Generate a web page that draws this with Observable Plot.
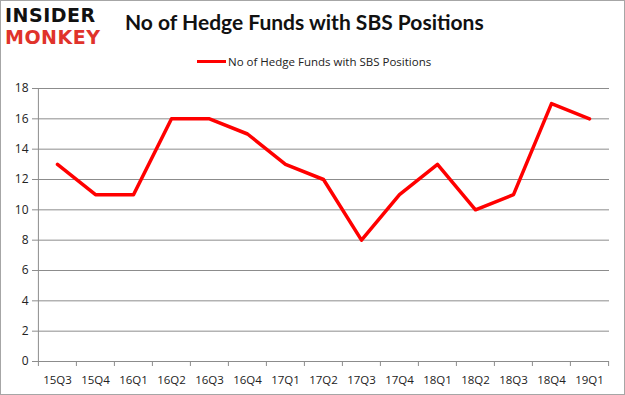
<!DOCTYPE html>
<html><head><meta charset="utf-8">
<script src="https://cdn.jsdelivr.net/npm/d3@7"></script>
<script src="https://cdn.jsdelivr.net/npm/@observablehq/plot@0.6"></script>
<style>
body{margin:0;background:#fff;}
#wrap{position:relative;width:625px;height:395px;overflow:hidden;background:#fff;}
#frame{position:absolute;left:0;top:0;width:623px;height:393px;border:1px solid #a6a6a6;pointer-events:none;}
.logo{position:absolute;left:5px;font-family:"DejaVu Sans";font-weight:bold;letter-spacing:0.5px;line-height:21px;height:21px;font-size:19px;white-space:nowrap;}
#title{position:absolute;left:125px;top:9px;font-family:"Lato","Open Sans",sans-serif;font-weight:bold;font-size:21px;color:#111;white-space:nowrap;}
#legend{position:absolute;left:197px;top:54px;font-family:"Open Sans",sans-serif;font-size:11.5px;color:#222;white-space:nowrap;display:flex;align-items:center;}
#legend span.sw{display:inline-block;width:29px;height:3px;background:#ff0000;margin-right:2px;}
#chart{position:absolute;left:0;top:0;}
</style></head>
<body>
<div id="wrap">
  <div id="chart"></div>
  <div class="logo" style="top:5px;color:#111;">INSIDER</div>
  <div class="logo" style="top:27px;color:#e0332b;">MONKEY</div>
  <div id="title">No of Hedge Funds with SBS Positions</div>
  <div id="legend"><span class="sw"></span>No of Hedge Funds with SBS Positions</div>
  <div id="frame"></div>
</div>
<script>
const quarters = ["15Q3","15Q4","16Q1","16Q2","16Q3","16Q4","17Q1","17Q2","17Q3","17Q4","18Q1","18Q2","18Q3","18Q4","19Q1"];
const funds = [13,11,11,16,16,15,13,12,8,11,13,10,11,17,16];
const yTicks = [0,2,4,6,8,10,12,14,16,18];

const data = quarters.map((q,i)=>({q, v: funds[i]}));
const W = 625, H = 395, ml = 36, mr = 16, mt = 88, mb = 34;
const step = (W - ml - mr) / quarters.length;

const chart = Plot.plot({
  width: W, height: H,
  marginLeft: ml, marginRight: mr, marginTop: mt, marginBottom: mb,
  style: {fontFamily: "'Open Sans', sans-serif", fontSize: "11px", color: "#222", background: "transparent"},
  x: {type: "point", domain: quarters, padding: 0.5, label: null},
  y: {domain: [0, 18], ticks: yTicks, label: null},
  marks: [
    Plot.ruleY(yTicks.filter(d=>d>0), {stroke: "#8c8c8c", strokeWidth: 1}),
    Plot.ruleY([0], {stroke: "#8c8c8c"}),
    Plot.ruleX([quarters[0]], {dx: -step/2, stroke: "#8c8c8c"}),
    Plot.ruleX(quarters, {x: d=>d, dx: -step/2, y1: 0, y2: 0, insetBottom: -5, stroke: "#8c8c8c"}),
    Plot.ruleX([quarters[quarters.length-1]], {dx: step/2, y1: 0, y2: 0, insetBottom: -5, stroke: "#8c8c8c"}),
    Plot.axisX({tickSize: 0, tickPadding: 14, fontSize: 11.5, fill: "#222"}),
    Plot.axisY({ticks: yTicks, tickSize: 4, tickPadding: 4, stroke: "#8c8c8c", fill: "#222", fontSize: 12}),
    Plot.line(data, {x: "q", y: "v", stroke: "#ff0000", strokeWidth: 3.5, strokeLinejoin: "round"})
  ]
});
document.getElementById("chart").appendChild(chart);
</script>
</body></html>
